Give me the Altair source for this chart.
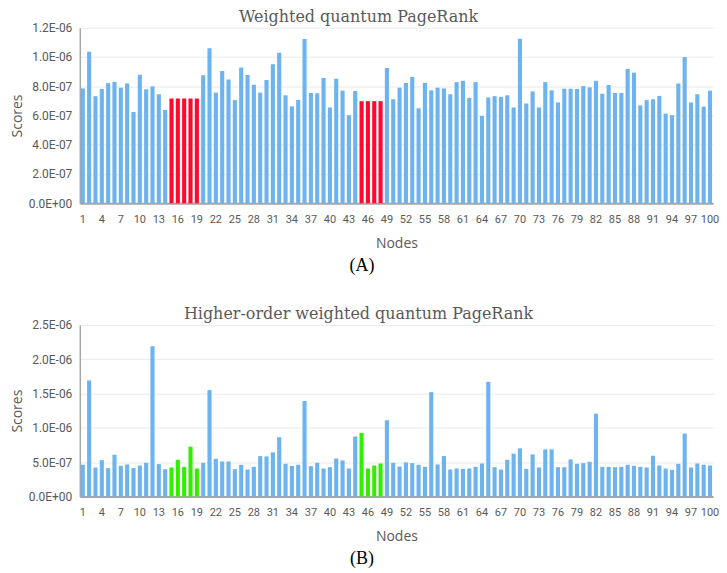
import altair as alt
import pandas as pd

nodes = list(range(1, 101))
tick_nodes = list(range(1, 101, 3))
highlight_nodes = [15, 16, 17, 18, 19, 45, 46, 47, 48]

title_a = "Weighted quantum PageRank"
title_b = "Higher-order weighted quantum PageRank"
tag_a = "(A)"
tag_b = "(B)"

scores_a = [
    7.85e-7, 10.36e-7, 7.32e-7, 7.81e-7, 8.21e-7, 8.30e-7, 7.90e-7, 8.19e-7, 6.24e-7, 8.79e-7,
    7.79e-7, 7.99e-7, 7.45e-7, 6.38e-7, 7.16e-7, 7.16e-7, 7.16e-7, 7.16e-7, 7.16e-7, 8.75e-7,
    10.60e-7, 7.56e-7, 9.04e-7, 8.46e-7, 7.05e-7, 9.28e-7, 8.77e-7, 8.10e-7, 7.56e-7, 8.43e-7,
    9.51e-7, 10.29e-7, 7.38e-7, 6.62e-7, 7.07e-7, 11.23e-7, 7.54e-7, 7.52e-7, 8.57e-7, 6.55e-7,
    8.52e-7, 7.70e-7, 6.02e-7, 7.67e-7, 6.98e-7, 6.98e-7, 6.98e-7, 6.98e-7, 9.24e-7, 7.11e-7,
    7.90e-7, 8.23e-7, 8.64e-7, 6.49e-7, 8.23e-7, 7.72e-7, 7.90e-7, 7.85e-7, 7.45e-7, 8.28e-7,
    8.37e-7, 7.20e-7, 8.28e-7, 5.97e-7, 7.23e-7, 7.32e-7, 7.27e-7, 7.38e-7, 6.55e-7, 11.25e-7,
    6.82e-7, 7.65e-7, 6.55e-7, 8.28e-7, 7.72e-7, 6.89e-7, 7.83e-7, 7.83e-7, 7.81e-7, 8.01e-7,
    7.92e-7, 8.37e-7, 7.49e-7, 8.08e-7, 7.54e-7, 7.54e-7, 9.17e-7, 8.93e-7, 6.69e-7, 7.05e-7,
    7.11e-7, 7.34e-7, 6.13e-7, 6.02e-7, 8.19e-7, 10.00e-7, 6.89e-7, 7.45e-7, 6.60e-7, 7.70e-7,
]

scores_b = [
    4.61e-7, 16.9e-7, 4.22e-7, 5.29e-7, 4.12e-7, 6.08e-7, 4.46e-7, 4.66e-7, 4.12e-7, 4.51e-7,
    4.90e-7, 21.9e-7, 4.71e-7, 3.97e-7, 4.22e-7, 5.34e-7, 4.31e-7, 7.25e-7, 4.07e-7, 4.90e-7,
    15.5e-7, 5.49e-7, 5.10e-7, 5.10e-7, 3.97e-7, 4.61e-7, 3.92e-7, 4.31e-7, 5.88e-7, 5.83e-7,
    6.42e-7, 8.63e-7, 4.75e-7, 4.46e-7, 4.61e-7, 13.9e-7, 4.41e-7, 4.90e-7, 4.07e-7, 4.26e-7,
    5.54e-7, 5.25e-7, 4.07e-7, 8.73e-7, 9.26e-7, 4.07e-7, 4.51e-7, 4.80e-7, 11.1e-7, 4.90e-7,
    4.36e-7, 4.95e-7, 4.85e-7, 4.61e-7, 4.31e-7, 15.2e-7, 4.66e-7, 5.88e-7, 3.92e-7, 4.07e-7,
    4.02e-7, 4.07e-7, 4.31e-7, 4.80e-7, 16.7e-7, 4.26e-7, 3.92e-7, 5.34e-7, 6.23e-7, 7.01e-7,
    4.02e-7, 6.13e-7, 4.22e-7, 6.86e-7, 6.86e-7, 4.26e-7, 4.26e-7, 5.39e-7, 4.75e-7, 4.85e-7,
    5.05e-7, 12.06e-7, 4.31e-7, 4.31e-7, 4.26e-7, 4.31e-7, 4.61e-7, 4.46e-7, 4.31e-7, 4.22e-7,
    5.93e-7, 4.51e-7, 4.07e-7, 3.87e-7, 4.75e-7, 9.17e-7, 4.22e-7, 4.80e-7, 4.61e-7, 4.51e-7,
]

ticks_a = [0, 2e-7, 4e-7, 6e-7, 8e-7, 1e-6, 1.2e-6]
ticks_b = [0, 5e-7, 1e-6, 1.5e-6, 2e-6, 2.5e-6]

BLUE = "#6DB3EF"
RED = "#FF0A2E"
GREEN = "#33EE00"

label_expr = "replace(replace(format(datum.value, '.1e'), 'e-', 'E-0'), 'e+', 'E+0')"


def panel(scores, hl_color, ticks, title, tag, height):
    df = pd.DataFrame({
        "node": nodes,
        "score": scores,
        "group": ["hl" if n in highlight_nodes else "base" for n in nodes],
    })
    bars = alt.Chart(df).mark_bar().encode(
        x=alt.X("node:O",
                scale=alt.Scale(paddingInner=0.35, paddingOuter=0.15),
                axis=alt.Axis(values=tick_nodes, labelAngle=0, title="Nodes",
                              labelPadding=10, titlePadding=12, domainWidth=2,
                              grid=False)),
        y=alt.Y("score:Q",
                scale=alt.Scale(domain=[ticks[0], ticks[-1]], nice=False),
                axis=alt.Axis(values=ticks, labelExpr=label_expr, title="Scores",
                              labelPadding=8, titlePadding=4, domainWidth=1.5,
                              labelFontSize=12)),
        color=alt.Color("group:N",
                        scale=alt.Scale(domain=["base", "hl"], range=[BLUE, hl_color]),
                        legend=None),
    )
    tag_df = pd.DataFrame({"t": [tag]})
    label = alt.Chart(tag_df).mark_text(
        font="Liberation Serif", fontSize=18, color="black", baseline="middle", align="center"
    ).encode(text="t:N", x=alt.value(283), y=alt.value(height + 63))
    return alt.layer(bars, label).properties(
        width=635, height=height,
        title=alt.Title(title, dx=-38, offset=-3, frame="group"),
    )


top = panel(scores_a, RED, ticks_a, title_a, tag_a, 176)
bottom = panel(scores_b, GREEN, ticks_b, title_b, tag_b, 172)

chart = alt.vconcat(top, bottom, spacing=31).resolve_scale(
    color="independent"
).properties(
    padding={"left": 2, "top": 0, "right": 0, "bottom": 0}
).configure_axis(
    labelFont="Roboto", labelFontSize=11, labelColor="#595959",
    titleFont="Open Sans", titleFontSize=14, titleColor="#595959", titleFontWeight="normal",
    domainColor="#A6A6A6", gridColor="#E9E9E9", ticks=False,
).configure_view(stroke=None).configure_title(
    font="DejaVu Serif", fontSize=16, color="#595959", fontWeight="normal", anchor="middle"
)

chart.save("out.html", embed_options={"renderer": "svg", "actions": False})
